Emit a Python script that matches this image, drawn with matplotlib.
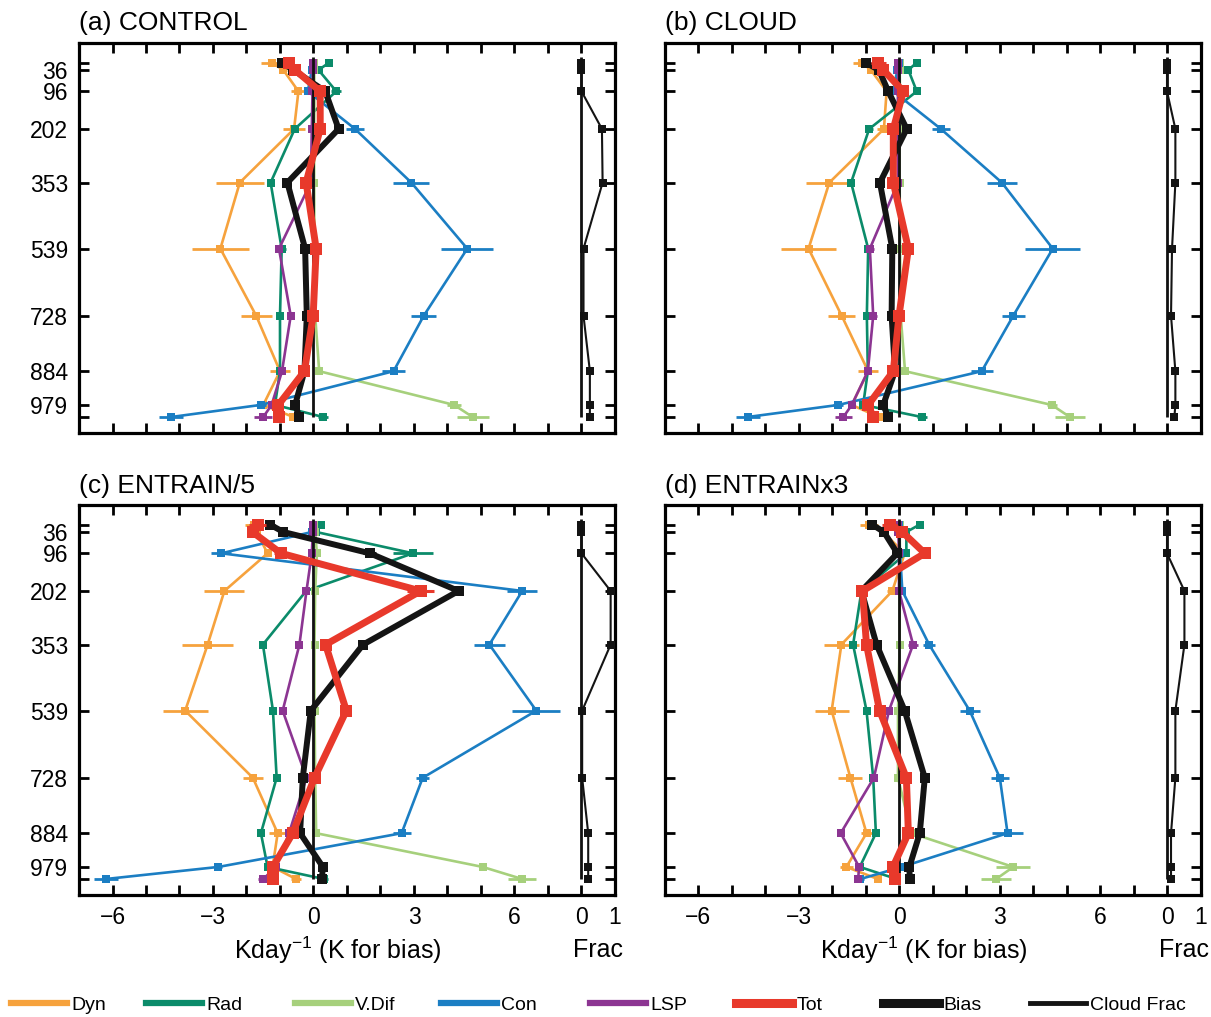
import numpy as np
import matplotlib
matplotlib.use('Agg')
import matplotlib.pyplot as plt
from matplotlib.lines import Line2D

plt.rcParams['font.family'] = ['Liberation Sans', 'DejaVu Sans']
plt.rcParams['mathtext.fontset'] = 'custom'
plt.rcParams['mathtext.rm'] = 'Liberation Sans'
plt.rcParams['mathtext.it'] = 'Liberation Sans'
plt.rcParams['mathtext.bf'] = 'Liberation Sans'

# ---------------- data ----------------
LEVELS = [15, 36, 96, 202, 353, 539, 728, 884, 979, 1013]
LEVEL_LABELS = ['', '36', '96', '202', '353', '539', '728', '884', '979', '']
X_TICKS = list(range(-6, 10))
X_TICK_TEXT = {-6: '\u22126', -3: '\u22123', 0: '0', 3: '3', 6: '6', 8: '0', 9: '1'}
PANEL_TITLES = ['(a) CONTROL', '(b) CLOUD', '(c) ENTRAIN/5', '(d) ENTRAINx3']
SERIES = ['Dyn', 'Rad', 'V.Dif', 'Con', 'LSP', 'Tot', 'Bias', 'Cloud Frac']

# (a) CONTROL
A_DYN = [-1.25, -0.9, -0.45, -0.58, -2.2, -2.78, -1.71, -1.0, -1.5, -0.6]
A_DYN_ERR = [0.32, 0.1, 0.22, 0.33, 0.72, 0.86, 0.46, 0.3, 0.1, 0.12]
A_RAD = [0.47, 0.15, 0.68, -0.56, -1.28, -0.95, -1.0, -1.0, -1.15, 0.29]
A_RAD_ERR = [0.0, 0.0, 0.15, 0.0, 0.0, 0.12, 0.0, 0.0, 0.0, 0.15]
A_VDIF = [0.02, 0.02, 0.03, 0.02, 0.02, 0.03, 0.05, 0.17, 4.2, 4.75]
A_VDIF_ERR = [0.0, 0.0, 0.0, 0.0, 0.0, 0.0, 0.0, 0.0, 0.2, 0.48]
A_CON = [0.0, -0.05, -0.17, 1.24, 2.92, 4.59, 3.29, 2.39, -1.58, -4.25]
A_CON_ERR = [0.0, 0.0, 0.08, 0.27, 0.54, 0.78, 0.37, 0.35, 0.15, 0.35]
A_LSP = [-0.02, -0.02, -0.03, -0.05, -0.08, -1.03, -0.68, -0.94, -1.25, -1.5]
A_LSP_ERR = [0.0, 0.0, 0.0, 0.0, 0.0, 0.0, 0.1, 0.0, 0.0, 0.27]
A_TOT = [-0.72, -0.55, 0.2, 0.2, -0.22, 0.08, -0.01, -0.27, -1.05, -1.02]
A_TOT_ERR = [0.15, 0.1, 0.1, 0.1, 0.0, 0.08, 0.0, 0.0, 0.0, 0.1]
A_BIAS = [-0.95, -0.6, 0.35, 0.75, -0.78, -0.25, -0.2, -0.27, -0.55, -0.42]
A_BIAS_ERR = [0.15, 0.0, 0.0, 0.1, 0.0, 0.0, 0.1, 0.0, 0.0, 0.0]
A_CLOUD = [0.0, 0.0, 0.0, 0.61, 0.63, 0.06, 0.06, 0.25, 0.25, 0.25]

# (b) CLOUD
B_DYN = [-1.11, -0.84, -0.37, -0.45, -2.08, -2.7, -1.71, -0.92, -1.41, -0.6]
B_DYN_ERR = [0.25, 0.1, 0.1, 0.2, 0.71, 0.82, 0.41, 0.3, 0.1, 0.1]
B_RAD = [0.53, 0.28, 0.53, -0.89, -1.43, -0.92, -0.96, -0.93, -1.07, 0.68]
B_RAD_ERR = [0.0, 0.0, 0.1, 0.1, 0.0, 0.1, 0.1, 0.0, 0.0, 0.15]
B_VDIF = [0.02, 0.02, 0.03, 0.02, 0.02, 0.03, 0.05, 0.18, 4.56, 5.1]
B_VDIF_ERR = [0.0, 0.0, 0.0, 0.0, 0.0, 0.0, 0.0, 0.0, 0.15, 0.45]
B_CON = [0.0, -0.05, -0.17, 1.25, 3.07, 4.59, 3.41, 2.47, -1.81, -4.52]
B_CON_ERR = [0.0, 0.0, 0.08, 0.27, 0.45, 0.82, 0.34, 0.33, 0.15, 0.36]
B_LSP = [-0.02, -0.02, -0.03, -0.05, -0.03, -0.87, -0.77, -0.93, -1.41, -1.66]
B_LSP_ERR = [0.0, 0.0, 0.0, 0.0, 0.0, 0.12, 0.12, 0.0, 0.0, 0.25]
B_TOT = [-0.62, -0.47, 0.13, -0.17, -0.17, 0.28, 0.0, -0.17, -0.92, -0.77]
B_TOT_ERR = [0.22, 0.1, 0.1, 0.1, 0.0, 0.1, 0.0, 0.0, 0.0, 0.1]
B_BIAS = [-1.0, -0.6, -0.32, 0.23, -0.57, -0.2, -0.22, -0.12, -0.47, -0.32]
B_BIAS_ERR = [0.12, 0.0, 0.0, 0.1, 0.0, 0.1, 0.1, 0.0, 0.0, 0.0]
B_CLOUD = [0.0, 0.0, 0.0, 0.25, 0.25, 0.15, 0.12, 0.25, 0.25, 0.22]

# (c) ENTRAIN/5
C_DYN = [-1.78, -1.7, -1.37, -2.66, -3.16, -3.83, -1.81, -1.07, -1.22, -0.52]
C_DYN_ERR = [0.25, 0.1, 0.1, 0.6, 0.76, 0.67, 0.3, 0.26, 0.1, 0.15]
C_RAD = [0.23, 0.08, 2.97, -0.22, -1.51, -1.21, -1.1, -1.57, -1.37, 0.31]
C_RAD_ERR = [0.0, 0.0, 0.6, 0.0, 0.0, 0.0, 0.0, 0.0, 0.0, 0.12]
C_VDIF = [0.02, 0.05, 0.1, 0.05, 0.03, 0.03, 0.05, 0.08, 5.05, 6.23]
C_VDIF_ERR = [0.0, 0.0, 0.0, 0.0, 0.0, 0.0, 0.0, 0.0, 0.1, 0.42]
C_CON = [0.0, -0.05, -2.75, 6.23, 5.25, 6.65, 3.26, 2.63, -2.84, -6.2]
C_CON_ERR = [0.0, 0.0, 0.3, 0.45, 0.46, 0.71, 0.2, 0.27, 0.1, 0.35]
C_LSP = [-0.02, -0.02, -0.05, -0.21, -0.42, -0.92, -0.21, -0.73, -1.12, -1.5]
C_LSP_ERR = [0.0, 0.0, 0.0, 0.0, 0.0, 0.0, 0.0, 0.0, 0.0, 0.15]
C_TOT = [-1.67, -1.82, -0.97, 3.2, 0.36, 0.98, 0.03, -0.62, -1.21, -1.22]
C_TOT_ERR = [0.25, 0.1, 0.2, 0.4, 0.1, 0.1, 0.0, 0.0, 0.0, 0.1]
C_BIAS = [-1.3, -0.9, 1.68, 4.33, 1.48, -0.08, -0.32, -0.4, 0.28, 0.25]
C_BIAS_ERR = [0.15, 0.0, 0.2, 0.1, 0.0, 0.12, 0.12, 0.0, 0.1, 0.0]
C_CLOUD = [0.0, 0.0, 0.0, 0.87, 0.87, 0.02, 0.02, 0.2, 0.2, 0.2]

# (d) ENTRAINx3
D_DYN = [-0.89, -0.48, 0.17, -0.2, -1.72, -2.01, -1.45, -0.97, -1.57, -0.63]
D_DYN_ERR = [0.27, 0.1, 0.1, 0.15, 0.53, 0.51, 0.36, 0.16, 0.2, 0.1]
D_RAD = [0.62, 0.22, 0.22, -1.12, -1.37, -0.97, -0.77, -0.69, -1.17, -0.07]
D_RAD_ERR = [0.0, 0.0, 0.0, 0.0, 0.1, 0.1, 0.0, 0.0, 0.0, 0.0]
D_VDIF = [0.02, 0.02, 0.03, 0.02, 0.02, -0.03, -0.03, 0.37, 3.41, 2.9]
D_VDIF_ERR = [0.0, 0.0, 0.0, 0.0, 0.0, 0.0, 0.0, 0.0, 0.5, 0.45]
D_CON = [0.0, 0.0, 0.03, 0.1, 0.9, 2.11, 3.01, 3.24, 0.08, -1.15]
D_CON_ERR = [0.0, 0.0, 0.0, 0.0, 0.17, 0.3, 0.27, 0.46, 0.1, 0.1]
D_LSP = [-0.02, -0.02, 0.0, 0.0, 0.42, -0.3, -0.75, -1.74, -1.19, -1.22]
D_LSP_ERR = [0.0, 0.0, 0.0, 0.0, 0.15, 0.0, 0.0, 0.0, 0.0, 0.12]
D_TOT = [-0.28, 0.1, 0.77, -1.09, -0.97, -0.58, 0.22, 0.28, -0.18, -0.13]
D_TOT_ERR = [0.22, 0.0, 0.1, 0.1, 0.0, 0.0, 0.0, 0.0, 0.1, 0.0]
D_BIAS = [-0.8, -0.45, -0.05, -1.12, -0.67, 0.17, 0.77, 0.62, 0.31, 0.32]
D_BIAS_ERR = [0.0, 0.0, 0.0, 0.0, 0.1, 0.1, 0.1, 0.0, 0.0, 0.0]
D_CLOUD = [0.0, 0.0, 0.0, 0.52, 0.52, 0.25, 0.25, 0.12, 0.12, 0.12]

PANELS = [
    [(A_DYN, A_DYN_ERR), (A_RAD, A_RAD_ERR), (A_VDIF, A_VDIF_ERR), (A_CON, A_CON_ERR),
     (A_LSP, A_LSP_ERR), (A_TOT, A_TOT_ERR), (A_BIAS, A_BIAS_ERR), A_CLOUD],
    [(B_DYN, B_DYN_ERR), (B_RAD, B_RAD_ERR), (B_VDIF, B_VDIF_ERR), (B_CON, B_CON_ERR),
     (B_LSP, B_LSP_ERR), (B_TOT, B_TOT_ERR), (B_BIAS, B_BIAS_ERR), B_CLOUD],
    [(C_DYN, C_DYN_ERR), (C_RAD, C_RAD_ERR), (C_VDIF, C_VDIF_ERR), (C_CON, C_CON_ERR),
     (C_LSP, C_LSP_ERR), (C_TOT, C_TOT_ERR), (C_BIAS, C_BIAS_ERR), C_CLOUD],
    [(D_DYN, D_DYN_ERR), (D_RAD, D_RAD_ERR), (D_VDIF, D_VDIF_ERR), (D_CON, D_CON_ERR),
     (D_LSP, D_LSP_ERR), (D_TOT, D_TOT_ERR), (D_BIAS, D_BIAS_ERR), D_CLOUD],
]

# ---------------- style ----------------
COLORS = ['#F6A23D', '#0B8B6A', '#A6D07C', '#1B7EC3', '#8C3592', '#E8392B', '#141414', '#141414']
LWS = [1.9, 1.9, 1.9, 1.9, 1.9, 5.0, 4.3, 1.5]
MSS = [5.5, 5.5, 5.5, 5.5, 5.5, 8.0, 7.5, 5.5]
ZORD = [3, 3.1, 3.2, 3.3, 3.4, 6, 5, 4]
FRAC_ORIGIN = 8.0   # cloud-fraction sub-axis starts at x = 8
P_TOP, P_BOT = 0, 1013

W, H = 1211, 1017
fig = plt.figure(figsize=(W / 100, H / 100), dpi=100)
ax_w, ax_h = 536 / W, 390 / H
positions = [
    [79 / W, 1 - 433 / H, ax_w, ax_h],
    [664.5 / W, 1 - 433 / H, ax_w, ax_h],
    [79 / W, 1 - 895 / H, ax_w, ax_h],
    [664.5 / W, 1 - 895 / H, ax_w, ax_h],
]

for k, (pos, title, pdata) in enumerate(zip(positions, PANEL_TITLES, PANELS)):
    ax = fig.add_axes(pos)
    ax.set_xlim(-7, 9)
    ax.set_ylim(1058, -40)
    # reference lines
    ax.vlines([0, FRAC_ORIGIN], P_TOP, P_BOT, color='#111111', lw=2.0, zorder=4.5)
    for i, name in enumerate(SERIES[:7]):
        vals, errs = pdata[i]
        big = i >= 5
        ax.errorbar(vals, LEVELS, xerr=errs, fmt='-s', color=COLORS[i], lw=LWS[i],
                    ms=MSS[i], mew=0, capsize=4.5 if big else 3.8,
                    elinewidth=2.2 if big else 2.0, capthick=2.2 if big else 2.0,
                    zorder=ZORD[i])
    cloud = pdata[7]
    ax.plot(np.add(cloud, FRAC_ORIGIN), LEVELS, '-s', color=COLORS[7], lw=LWS[7],
            ms=MSS[7], mew=0, zorder=ZORD[7])

    ax.set_xticks(X_TICKS)
    ax.set_xticklabels([X_TICK_TEXT.get(t, '') for t in X_TICKS])
    ax.set_yticks(LEVELS)
    ax.set_yticklabels(LEVEL_LABELS)
    ax.tick_params(direction='in', length=7, width=2, top=True, right=True,
                   labelsize=16.5, pad=8)
    if k < 2:
        ax.tick_params(labelbottom=False)
    if k % 2 == 1:
        ax.tick_params(labelleft=False)
    for sp in ax.spines.values():
        sp.set_linewidth(2.3)
    ax.set_title(title, loc='left', fontsize=19, pad=9)
    if k >= 2:
        tr = ax.get_xaxis_transform()
        ax.text(0.73, -0.142, r'Kday$^{-1}$ (K for bias)', transform=tr, ha='center',
                va='center', fontsize=18)
        ax.text(8.5, -0.142, 'Frac', transform=tr, ha='center', va='center',
                fontsize=18)

# legend
LEGEND_X = [11, 146, 295, 441, 590, 736, 883, 1030]
LEG_LW = [4.5, 4.5, 4.5, 4.5, 4.5, 6.5, 6.5, 3.5]
for i, name in enumerate(SERIES):
    h = Line2D([], [], color=COLORS[i], lw=LEG_LW[i])
    fig.legend([h], [name], loc='center left',
               bbox_to_anchor=(LEGEND_X[i] / W, 1 - 1005 / H), frameon=False,
               handlelength=2.9, handletextpad=0.2, borderpad=0, borderaxespad=0,
               prop={'size': 14})

fig.savefig('out.png', dpi=100)
